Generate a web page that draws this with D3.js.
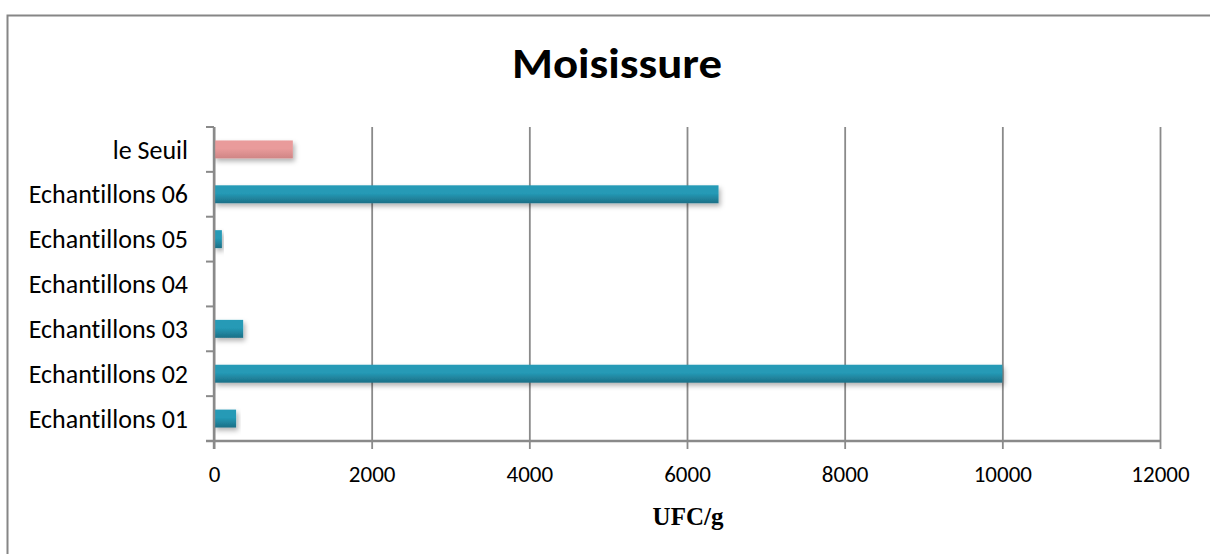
<!DOCTYPE html>
<html>
<head>
<meta charset="utf-8">
<script src="https://cdn.jsdelivr.net/npm/d3@7/dist/d3.min.js"></script>
<style>
  html, body { margin: 0; padding: 0; background: #fff; }
  svg { display: block; }
  text { font-variant-ligatures: none; font-feature-settings: "liga" 0, "clig" 0; }
</style>
</head>
<body>
<svg id="chart" width="1210" height="554"></svg>
<script>
// Mould counts per sample (UFC/g), plus the regulatory threshold
const categories = ["le Seuil", "Echantillons 06", "Echantillons 05", "Echantillons 04", "Echantillons 03", "Echantillons 02", "Echantillons 01"];
const values = [1000, 6400, 100, 0, 370, 10000, 280];
const xTicks = [0, 2000, 4000, 6000, 8000, 10000, 12000];
const title = "Moisissure";
const xTitle = "UFC/g";

const svg = d3.select("#chart");
const W = 1210, H = 554;
const m = { left: 214, right: 1160, top: 127, bottom: 441 };
const uiFont = "Carlito, Lato, 'Open Sans', sans-serif";

// Outer chart frame (runs off the right and bottom edges)
svg.append("rect")
  .attr("x", 7.5).attr("y", 15.5)
  .attr("width", W + 20).attr("height", H + 20)
  .attr("fill", "#fff").attr("stroke", "#868686").attr("stroke-width", 2);

const defs = svg.append("defs");
function grad(id, top, bottom) {
  const g = defs.append("linearGradient").attr("id", id)
    .attr("x1", 0).attr("y1", 0).attr("x2", 0).attr("y2", 1);
  g.append("stop").attr("offset", "0%").attr("stop-color", top);
  g.append("stop").attr("offset", "45%").attr("stop-color", top);
  g.append("stop").attr("offset", "100%").attr("stop-color", bottom);
}
grad("gBlue", "#259ab6", "#1c6f86");
grad("gRed", "#e99b9b", "#cf8585");
const sh = defs.append("filter").attr("id", "shadow")
  .attr("x", "-10%").attr("y", "-30%").attr("width", "130%").attr("height", "190%");
sh.append("feDropShadow").attr("dx", 2).attr("dy", 3).attr("stdDeviation", 2.5)
  .attr("flood-color", "#000").attr("flood-opacity", 0.3);

const x = d3.scaleLinear().domain([0, 12000]).range([m.left, m.right]);
const y = d3.scaleBand().domain(categories).range([m.top, m.bottom])
  .paddingInner(0.6).paddingOuter(0.3);

// Vertical gridlines with tick marks below the axis
const xAxis = svg.append("g").attr("transform", `translate(0,${m.bottom})`)
  .call(d3.axisBottom(x).tickValues(xTicks).tickFormat(d3.format("d"))
    .tickSize(8).tickSizeOuter(0).tickPadding(17));
xAxis.select(".domain").remove();
xAxis.selectAll(".tick line")
  .attr("y1", -(m.bottom - m.top))
  .attr("stroke", "#8a8a8a").attr("stroke-width", 1.8);
xAxis.selectAll(".tick text")
  .attr("font-family", uiFont).attr("font-size", 23).attr("fill", "#000");

// Bars
svg.append("g").selectAll("rect").data(categories).join("rect")
  .attr("x", x(0))
  .attr("y", d => y(d))
  .attr("width", (d, i) => x(values[i]) - x(0))
  .attr("height", y.bandwidth())
  .attr("fill", d => d === "le Seuil" ? "url(#gRed)" : "url(#gBlue)")
  .attr("filter", "url(#shadow)");

// Category axis with ticks at band boundaries
const bounds = d3.range(categories.length + 1).map(i => m.top + i * (m.bottom - m.top) / categories.length);
const ya = svg.append("g");
ya.selectAll("line.t").data(bounds).join("line")
  .attr("x1", m.left - 8).attr("x2", m.left)
  .attr("y1", d => d).attr("y2", d => d)
  .attr("stroke", "#8a8a8a").attr("stroke-width", 2);
ya.selectAll("text").data(categories).join("text")
  .attr("x", 188)
  .attr("y", d => y(d) + y.bandwidth() / 2)
  .attr("dy", "0.35em")
  .attr("text-anchor", "end")
  .attr("font-family", uiFont).attr("font-size", 26).attr("fill", "#000")
  .text(d => d);

// Axis lines
svg.append("line").attr("x1", m.left).attr("x2", m.left)
  .attr("y1", m.top).attr("y2", m.bottom + 8)
  .attr("stroke", "#8a8a8a").attr("stroke-width", 2.4);
svg.append("line").attr("x1", m.left - 8).attr("x2", m.right)
  .attr("y1", m.bottom).attr("y2", m.bottom)
  .attr("stroke", "#8a8a8a").attr("stroke-width", 2.4);

// Titles
svg.append("text").attr("x", 617).attr("y", 78)
  .attr("text-anchor", "middle")
  .attr("font-family", uiFont).attr("font-weight", "bold").attr("font-size", 43)
  .attr("textLength", 210).attr("lengthAdjust", "spacingAndGlyphs")
  .text(title);
svg.append("text").attr("x", 688).attr("y", 525)
  .attr("text-anchor", "middle")
  .attr("font-family", "'Liberation Serif', 'Times New Roman', serif")
  .attr("font-weight", "bold").attr("font-size", 25)
  .text(xTitle);
</script>
</body>
</html>
